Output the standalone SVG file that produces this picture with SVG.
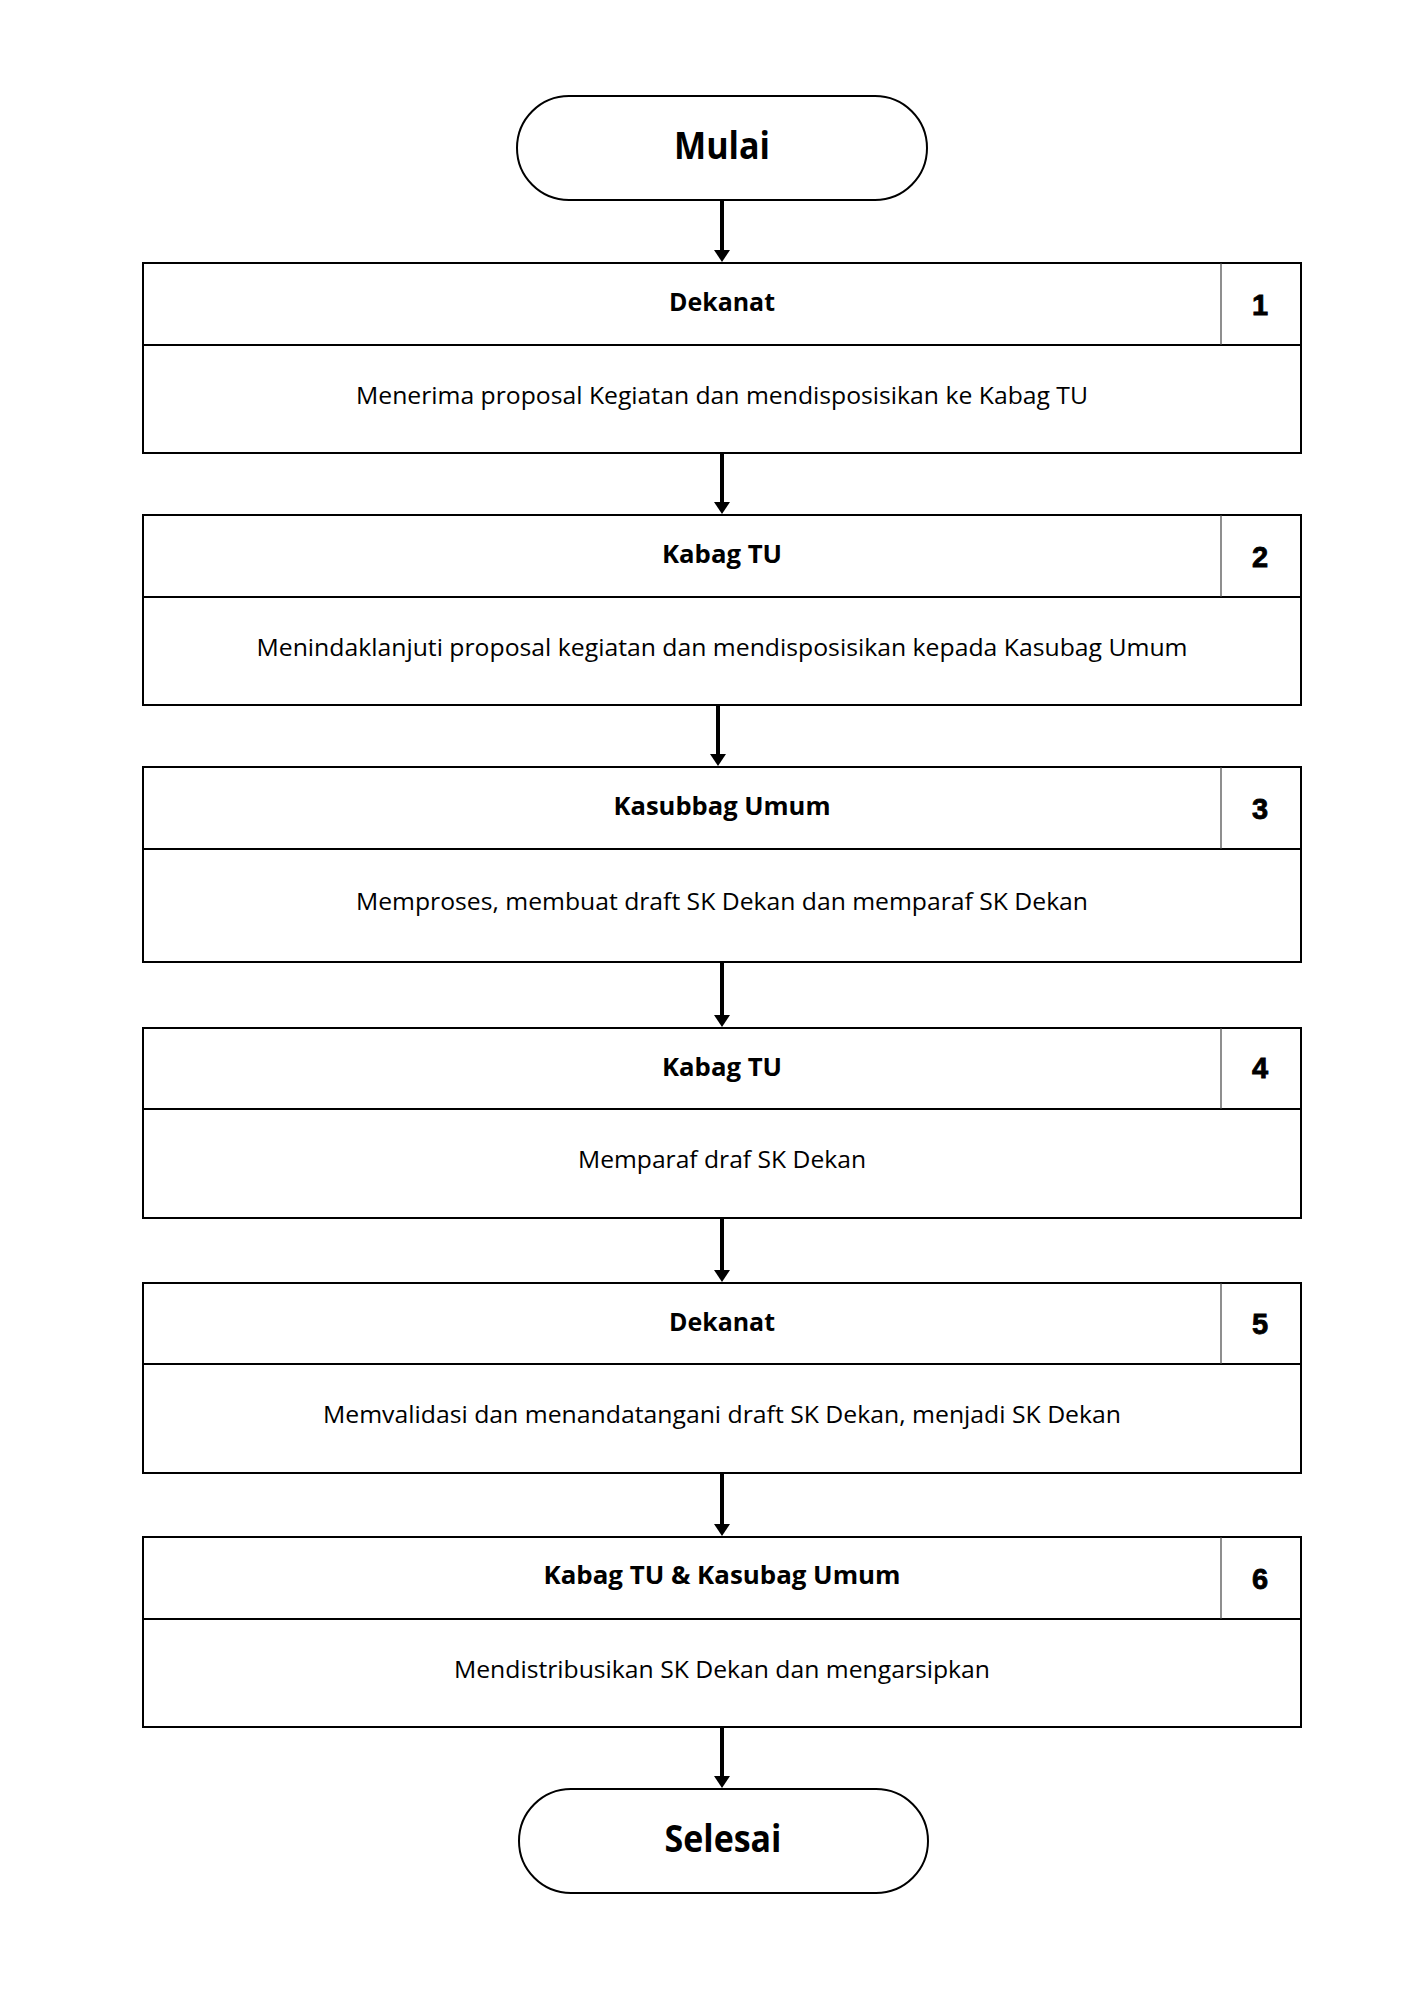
<svg xmlns="http://www.w3.org/2000/svg" width="1414" height="2000" viewBox="0 0 1414 2000">
<style>
.box{fill:#fff;stroke:#000;stroke-width:2}
.cell{stroke:#444;stroke-width:1.2;fill:none}
.div{stroke:#000;stroke-width:2}
.hd{font-family:"Open Sans","Liberation Sans",sans-serif;font-weight:bold;font-size:25px;text-anchor:middle;fill:#000}
.bd{font-family:"Open Sans","Liberation Sans",sans-serif;font-size:24px;text-anchor:middle;fill:#000}
.num{font-family:"Liberation Sans",Arial,sans-serif;font-weight:900;font-size:29px;text-anchor:middle;fill:#000;stroke:#000;stroke-width:0.8}
.term{font-family:"Open Sans","Liberation Sans",sans-serif;font-weight:bold;font-size:37px;text-anchor:middle;fill:#000}
.conn{stroke:#000;stroke-width:4;fill:none}
</style>
<defs>
<marker id="ah" markerWidth="12" markerHeight="16" refX="4" refY="8" orient="auto" markerUnits="userSpaceOnUse">
<path d="M0,0 L12,8 L0,16 Z" fill="#000"/>
</marker>
</defs>
<rect width="1414" height="2000" fill="#fff"/>
<g id="connectors">
<line class="conn" x1="722" y1="200" x2="722" y2="254" marker-end="url(#ah)"/>
<line class="conn" x1="722" y1="453" x2="722" y2="506" marker-end="url(#ah)"/>
<line class="conn" x1="718" y1="705" x2="718" y2="758" marker-end="url(#ah)"/>
<line class="conn" x1="722" y1="962" x2="722" y2="1019" marker-end="url(#ah)"/>
<line class="conn" x1="722" y1="1218" x2="722" y2="1274" marker-end="url(#ah)"/>
<line class="conn" x1="722" y1="1473" x2="722" y2="1528" marker-end="url(#ah)"/>
<line class="conn" x1="722" y1="1727" x2="722" y2="1780" marker-end="url(#ah)"/>
</g>
<g id="start">
<rect class="box" x="517" y="96" width="410" height="104" rx="52" ry="52"/>
<text class="term" x="722" y="159" textLength="96" lengthAdjust="spacingAndGlyphs">Mulai</text>
</g>
<g id="step1">
<rect class="box" x="143" y="263" width="1158" height="190"/>
<line class="div" x1="143" y1="345" x2="1301" y2="345"/>
<line class="cell" x1="1221" y1="263" x2="1221" y2="345"/>
<text class="hd" x="722" y="311" textLength="106" lengthAdjust="spacingAndGlyphs">Dekanat</text>
<text class="num" x="1260" y="315">1</text>
<text class="bd" x="722" y="404" textLength="732" lengthAdjust="spacingAndGlyphs">Menerima proposal Kegiatan dan mendisposisikan ke Kabag TU</text>
</g>
<g id="step2">
<rect class="box" x="143" y="515" width="1158" height="190"/>
<line class="div" x1="143" y1="597" x2="1301" y2="597"/>
<line class="cell" x1="1221" y1="515" x2="1221" y2="597"/>
<text class="hd" x="722" y="563" textLength="120" lengthAdjust="spacingAndGlyphs">Kabag TU</text>
<text class="num" x="1260" y="567">2</text>
<text class="bd" x="722" y="656" textLength="931" lengthAdjust="spacingAndGlyphs">Menindaklanjuti proposal kegiatan dan mendisposisikan kepada Kasubag Umum</text>
</g>
<g id="step3">
<rect class="box" x="143" y="767" width="1158" height="195"/>
<line class="div" x1="143" y1="849" x2="1301" y2="849"/>
<line class="cell" x1="1221" y1="767" x2="1221" y2="849"/>
<text class="hd" x="722" y="815" textLength="217" lengthAdjust="spacingAndGlyphs">Kasubbag Umum</text>
<text class="num" x="1260" y="819">3</text>
<text class="bd" x="722" y="910" textLength="732" lengthAdjust="spacingAndGlyphs">Memproses, membuat draft SK Dekan dan memparaf SK Dekan</text>
</g>
<g id="step4">
<rect class="box" x="143" y="1028" width="1158" height="190"/>
<line class="div" x1="143" y1="1109" x2="1301" y2="1109"/>
<line class="cell" x1="1221" y1="1028" x2="1221" y2="1109"/>
<text class="hd" x="722" y="1076" textLength="120" lengthAdjust="spacingAndGlyphs">Kabag TU</text>
<text class="num" x="1260" y="1078">4</text>
<text class="bd" x="722" y="1168" textLength="288" lengthAdjust="spacingAndGlyphs">Memparaf draf SK Dekan</text>
</g>
<g id="step5">
<rect class="box" x="143" y="1283" width="1158" height="190"/>
<line class="div" x1="143" y1="1364" x2="1301" y2="1364"/>
<line class="cell" x1="1221" y1="1283" x2="1221" y2="1364"/>
<text class="hd" x="722" y="1331" textLength="106" lengthAdjust="spacingAndGlyphs">Dekanat</text>
<text class="num" x="1260" y="1334">5</text>
<text class="bd" x="722" y="1423" textLength="798" lengthAdjust="spacingAndGlyphs">Memvalidasi dan menandatangani draft SK Dekan, menjadi SK Dekan</text>
</g>
<g id="step6">
<rect class="box" x="143" y="1537" width="1158" height="190"/>
<line class="div" x1="143" y1="1619" x2="1301" y2="1619"/>
<line class="cell" x1="1221" y1="1537" x2="1221" y2="1619"/>
<text class="hd" x="722" y="1584" textLength="357" lengthAdjust="spacingAndGlyphs">Kabag TU &amp; Kasubag Umum</text>
<text class="num" x="1260" y="1589">6</text>
<text class="bd" x="722" y="1678" textLength="536" lengthAdjust="spacingAndGlyphs">Mendistribusikan SK Dekan dan mengarsipkan</text>
</g>
<g id="end">
<rect class="box" x="519" y="1789" width="409" height="104" rx="52" ry="52"/>
<text class="term" x="723" y="1852" textLength="117" lengthAdjust="spacingAndGlyphs">Selesai</text>
</g>
</svg>
